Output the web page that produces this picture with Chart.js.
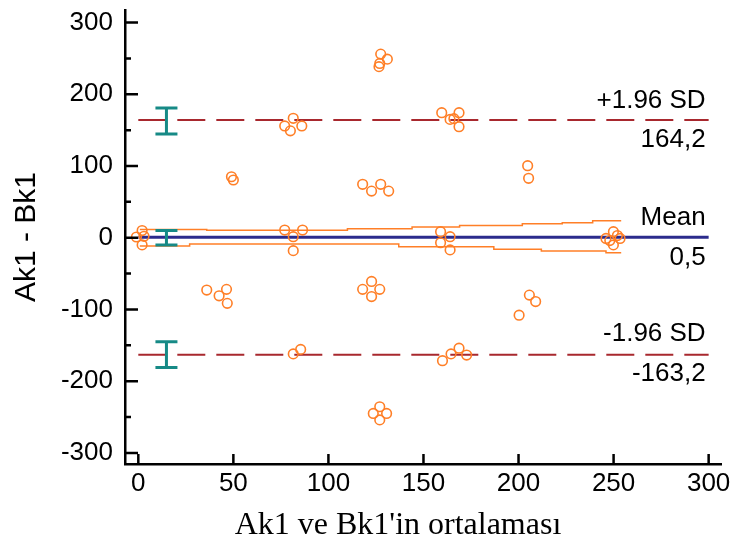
<!DOCTYPE html>
<html>
<head>
<meta charset="utf-8">
<script src="https://cdn.jsdelivr.net/npm/chart.js@4.4.0/dist/chart.umd.min.js"></script>
<style>
  html, body { margin: 0; padding: 0; background: #fff; }
</style>
</head>
<body>
<canvas id="baChart" width="734" height="549"></canvas>
<script>
// averages (x) and differences (y) of the pairs
const avgValues = [
  -1, 2, 2, 3,
  36, 42.5, 46.4, 46.8,
  49, 50,
  81.5, 77, 86, 80,
  77, 86.4, 81.5, 81.5,
  81.5, 85.4,
  118, 122.7, 127.5, 131.7,
  127.5, 131, 126.6, 127,
  122.7, 118, 127, 122.7,
  127, 123.6, 130.6, 127,
  159.6, 168.7, 164, 166, 168.7,
  159, 164, 159, 164,
  168.7, 164.5, 172.7, 160,
  204.8, 205.3,
  205.7, 209, 200.3,
  249.9, 246, 253.4, 249.9, 252, 248
];
const diffValues = [
  1, 10, -10, 2,
  -73, -81, -72, -91.5,
  85, 80.5,
  166.5, 155.8, 155.8, 149,
  10.7, 10.7, 1.4, -18,
  -162, -155.7,
  74.5, 65, 74.5, 65,
  256, 249, 238.5, 243,
  -61, -72, -72, -82,
  -235.7, -245, -245, -254,
  174.3, 174.3, 165, 166, 154.8,
  8.4, 1.4, -7, -17,
  -154, -162, -163.6, -171.5,
  100.4, 82.8,
  -80, -89, -108,
  8.4, -1, -1, -10, 3, -4
];

const meanDiff = 0.5;
const upperLoa = 164.2;
const lowerLoa = -163.2;
const lineRange = [0, 300];

// 95% CI bars of the upper limit, mean and lower limit
const ciX = 14.8;
const ciLow = [144.6, -10, -181];
const ciHigh = [181, 10, -145];

// stepped band around the mean
const bandUpperX = [0.8, 36, 110, 144, 169, 202, 223, 239, 254];
const bandUpperY = [11.5, 10.5, 12.5, 15, 17, 19.5, 21, 23.7, 23.7];
const bandLowerX = [0.8, 27, 137, 187, 212, 246, 254];
const bandLowerY = [-11.6, -8.8, -12.5, -16, -18.5, -21, -21];

const xTicks = [0, 50, 100, 150, 200, 250, 300];
const yTicks = [-300, -200, -100, 0, 100, 200, 300];
const yMinorTicks = [-250, -150, -50, 50, 150, 250];

const ORANGE = '#FF7F27';
const NAVY = '#2B2B8C';
const DARKRED = '#A8282E';
const TEAL = '#168A86';
const SANS = '"Liberation Sans", Arial, sans-serif';

const fmt = v => v.toFixed(1).replace('.', ',');
const hline = (y) => lineRange.map(x => ({ x: x, y: y }));
const pairs = (xs, ys) => xs.map((x, i) => ({ x: x, y: ys[i] }));

const extras = {
  id: 'extras',
  afterDatasetsDraw(chart) {
    const ctx = chart.ctx;
    const xs = chart.scales.x, ys = chart.scales.y;
    const left = xs.left, bottom = ys.bottom;

    ctx.save();
    // CI bars
    ctx.strokeStyle = TEAL;
    ctx.lineWidth = 3;
    const cx = xs.getPixelForValue(ciX);
    ciLow.forEach((lo, i) => {
      const y1 = ys.getPixelForValue(lo), y2 = ys.getPixelForValue(ciHigh[i]);
      ctx.beginPath();
      ctx.moveTo(cx, y1); ctx.lineTo(cx, y2);
      ctx.moveTo(cx - 11, y1); ctx.lineTo(cx + 11, y1);
      ctx.moveTo(cx - 11, y2); ctx.lineTo(cx + 11, y2);
      ctx.stroke();
    });

    // inward tick marks
    ctx.strokeStyle = '#000';
    ctx.lineWidth = 2.5;
    ctx.beginPath();
    yTicks.forEach(v => {
      const y = ys.getPixelForValue(v);
      ctx.moveTo(left, y); ctx.lineTo(left + 13, y);
    });
    yMinorTicks.forEach(v => {
      const y = ys.getPixelForValue(v);
      ctx.moveTo(left, y); ctx.lineTo(left + 6, y);
    });
    xTicks.forEach(v => {
      const x = xs.getPixelForValue(v);
      ctx.moveTo(x, bottom); ctx.lineTo(x, bottom - 10);
    });
    ctx.stroke();

    // limit labels
    ctx.fillStyle = '#000';
    ctx.font = '26px ' + SANS;
    ctx.textAlign = 'right';
    ctx.textBaseline = 'alphabetic';
    const rx = xs.getPixelForValue(lineRange[1]) - 3;
    const yU = ys.getPixelForValue(upperLoa);
    const yM = ys.getPixelForValue(meanDiff);
    const yL = ys.getPixelForValue(lowerLoa);
    ctx.fillText('+1.96 SD', rx, yU - 12);
    ctx.fillText(fmt(upperLoa), rx, yU + 27);
    ctx.fillText('Mean', rx, yM - 12);
    ctx.fillText(fmt(meanDiff), rx, yM + 28);
    ctx.fillText('-1.96 SD', rx, yL - 14);
    ctx.fillText(fmt(lowerLoa), rx, yL + 26);

    // x axis title
    ctx.font = '32px "Liberation Serif", "Times New Roman", serif';
    ctx.textAlign = 'center';
    ctx.fillText("Ak1 ve Bk1'in ortalaması", 398, 534);
    ctx.restore();
  }
};

new Chart(document.getElementById('baChart'), {
  type: 'scatter',
  data: {
    datasets: [
      {
        data: pairs(avgValues, diffValues),
        borderColor: ORANGE,
        backgroundColor: 'rgba(0,0,0,0)',
        borderWidth: 1.6,
        pointRadius: 4.8,
        order: 0
      },
      {
        data: hline(meanDiff),
        showLine: true, borderColor: NAVY, borderWidth: 3, pointRadius: 0, order: 2
      },
      {
        data: hline(upperLoa),
        showLine: true, borderColor: DARKRED, borderWidth: 2, borderDash: [28, 11], pointRadius: 0, order: 2
      },
      {
        data: hline(lowerLoa),
        showLine: true, borderColor: DARKRED, borderWidth: 2, borderDash: [28, 11], pointRadius: 0, order: 2
      },
      {
        data: pairs(bandUpperX, bandUpperY),
        showLine: true, stepped: true, borderColor: ORANGE, borderWidth: 1.5, pointRadius: 0, order: 1
      },
      {
        data: pairs(bandLowerX, bandLowerY),
        showLine: true, stepped: true, borderColor: ORANGE, borderWidth: 1.5, pointRadius: 0, order: 1
      }
    ]
  },
  options: {
    responsive: false,
    animation: false,
    layout: { padding: { top: 10, right: 13, left: 0, bottom: 0 } },
    plugins: {
      legend: { display: false },
      tooltip: { enabled: false }
    },
    scales: {
      x: {
        type: 'linear',
        min: -7,
        max: 306.5,
        afterBuildTicks: s => { s.ticks = xTicks.map(v => ({ value: v })); },
        afterFit: s => { s.height = 85; s.paddingLeft = 0; s.paddingRight = 0; },
        grid: { display: false, drawTicks: false },
        border: { display: true, color: '#000', width: 2.5 },
        ticks: {
          autoSkip: false, maxRotation: 0, padding: 4, color: '#000',
          font: { family: SANS, size: 26 }
        }
      },
      y: {
        min: -315.5,
        max: 317.5,
        afterBuildTicks: s => { s.ticks = yTicks.map(v => ({ value: v })); },
        afterFit: s => { s.width = 125; s.paddingTop = 0; s.paddingBottom = 0; },
        grid: { display: false, drawTicks: false },
        border: { display: true, color: '#000', width: 2.5 },
        ticks: {
          autoSkip: false, padding: 12, color: '#000',
          font: { family: SANS, size: 26 }
        },
        title: {
          display: true,
          text: 'Ak1 - Bk1',
          color: '#000',
          font: { family: SANS, size: 30 },
          padding: { top: 9, bottom: 0 }
        }
      }
    }
  },
  plugins: [extras]
});
</script>
</body>
</html>
